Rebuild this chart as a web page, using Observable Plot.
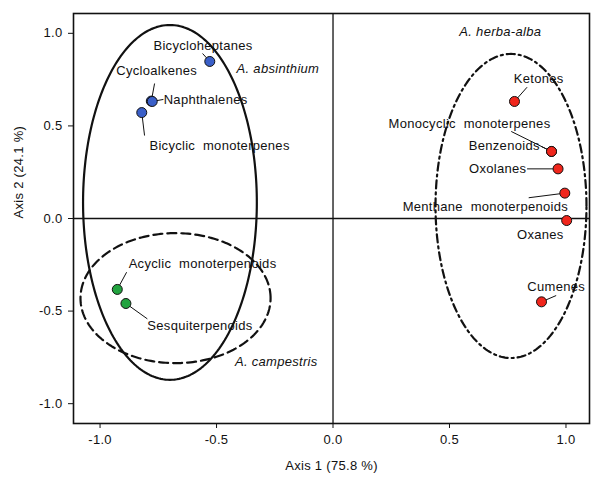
<!DOCTYPE html>
<html><head><meta charset="utf-8">
<script src="https://cdn.jsdelivr.net/npm/d3@7"></script>
<script src="https://cdn.jsdelivr.net/npm/@observablehq/plot@0.6"></script>
<style>
body{margin:0;background:#fff;}
svg text{white-space:pre;}
</style>
</head><body><div id="chart"></div>
<script>
// Compound classes (points) — PCA scores
const compounds = ["Bicycloheptanes","Cycloalkenes","Naphthalenes","Bicyclic  monoterpenes",
  "Acyclic  monoterpenoids","Sesquiterpenoids",
  "Ketones","Monocyclic  monoterpenes","Benzenoids","Oxolanes","Menthane  monoterpenoids","Oxanes","Cumenes"];
const axis1 = [-0.529,-0.780,-0.776,-0.821, -0.926,-0.889, 0.779,0.938,0.938,0.966,0.995,1.003,0.895];
const axis2 = [0.848,0.634,0.632,0.572, -0.383,-0.459, 0.632,0.362,0.362,0.268,0.137,-0.011,-0.450];
const species = ["A. absinthium","A. absinthium","A. absinthium","A. absinthium",
  "A. campestris","A. campestris",
  "A. herba-alba","A. herba-alba","A. herba-alba","A. herba-alba","A. herba-alba","A. herba-alba","A. herba-alba"];

// Label anchor positions (data units)
const labelX = [-0.558,-0.757,-0.547,-0.487, -0.560,-0.571, 0.883,0.586,0.735,0.707,0.654,0.890,0.958];
const labelY = [0.934,0.795,0.643,0.395, -0.245,-0.582, 0.754,0.511,0.394,0.268,0.065,-0.086,-0.371];
// Leader line start (near label) — ends at point
const leaderX = [-0.560,-0.766,-0.728,-0.809, -0.886,-0.797, 0.833,0.765,0.894,0.833,0.840,null,0.958];
const leaderY = [0.891,0.729,0.643,0.448, -0.290,-0.542, 0.709,0.470,0.389,0.268,0.112,null,-0.416];

// Species groups (ellipses)
const groupNames = ["A. absinthium","A. campestris","A. herba-alba"];
const ellipseCX = [-0.700,-0.676,0.764];
const ellipseCY = [0.087,-0.430,0.0675];
const ellipseRX = [0.373,0.408,0.324];
const ellipseRY = [0.958,0.351,0.821];
const groupLabelX = [-0.414,-0.421,0.718];
const groupLabelY = [0.808,-0.772,1.010];

const xTicks = [-1.0,-0.5,0.0,0.5,1.0];
const yTicks = [-1.0,-0.5,0.0,0.5,1.0];

const colors = {"A. absinthium":"#3a5fc8","A. campestris":"#22a33f","A. herba-alba":"#f0261c"};
const dashes = ["none","9,5","8,4,2,4"];

const points = compounds.map((c,i)=>({name:c,x:axis1[i],y:axis2[i],sp:species[i],lx:labelX[i],ly:labelY[i],ex:leaderX[i],ey:leaderY[i]}));
const leaders = points.filter(d=>d.ex!=null);
const groups = groupNames.map((g,i)=>({name:g, x:groupLabelX[i], y:groupLabelY[i]}));

const ellipses = [];
groupNames.forEach((g,k)=>{
  const n = 240;
  for(let j=0;j<=n;j++){
    const t = 2*Math.PI*j/n;
    ellipses.push({g, k, x: ellipseCX[k]+ellipseRX[k]*Math.cos(t), y: ellipseCY[k]+ellipseRY[k]*Math.sin(t)});
  }
});

const font = "'Liberation Sans', Arial, sans-serif";
const chart = Plot.plot({
  width: 591, height: 477,
  marginLeft: 73, marginRight: 2, marginTop: 13, marginBottom: 54,
  style: {fontFamily: font, fontSize: "13px", color: "#111", background: "#fff", letterSpacing: "0.3px"},
  x: {domain: [-1.114, 1.101], ticks: xTicks, tickFormat: d=>d.toFixed(1), tickSize: 5, tickPadding: 6, label: null},
  y: {domain: [-1.107, 1.107], ticks: yTicks, tickFormat: d=>d.toFixed(1), tickSize: 5, tickPadding: 6, label: null},
  marks: [
    Plot.ruleX([0], {stroke: "#111", strokeWidth: 1.3}),
    Plot.ruleY([0], {stroke: "#111", strokeWidth: 1.3}),
    ...groupNames.map((g,k)=>Plot.line(ellipses.filter(d=>d.k===k), {x:"x", y:"y", stroke:"#111", strokeWidth: 2.2, strokeDasharray: dashes[k]})),
    Plot.link(leaders, {x1:"ex", y1:"ey", x2:"x", y2:"y", stroke:"#111", strokeWidth: 1}),
    Plot.dot(points, {x:"x", y:"y", r: 5, fill: d=>colors[d.sp], stroke:"#111", strokeWidth: 1}),
    Plot.text(points, {x:"lx", y:"ly", text:"name", textAnchor:"middle", fill:"#111", fontSize: 13}),
    Plot.text(groups.slice(0,2), {x:"x", y:"y", text:"name", textAnchor:"start", fontStyle:"italic", fill:"#111", fontSize: 13}),
    Plot.text(groups.slice(2), {x:"x", y:"y", text:"name", textAnchor:"middle", fontStyle:"italic", fill:"#111", fontSize: 13}),
    Plot.text(["Axis 1 (75.8 %)"], {frameAnchor:"bottom", dy: 46, text:d=>d, fill:"#111", fontSize: 13}),
    Plot.text(["Axis 2 (24.1 %)"], {frameAnchor:"left", dx: -55, rotate: -90, text:d=>d, fill:"#111", fontSize: 13}),
    Plot.frame({stroke:"#111", strokeWidth: 1.6})
  ]
});
document.getElementById("chart").appendChild(chart);
</script>
</body></html>
